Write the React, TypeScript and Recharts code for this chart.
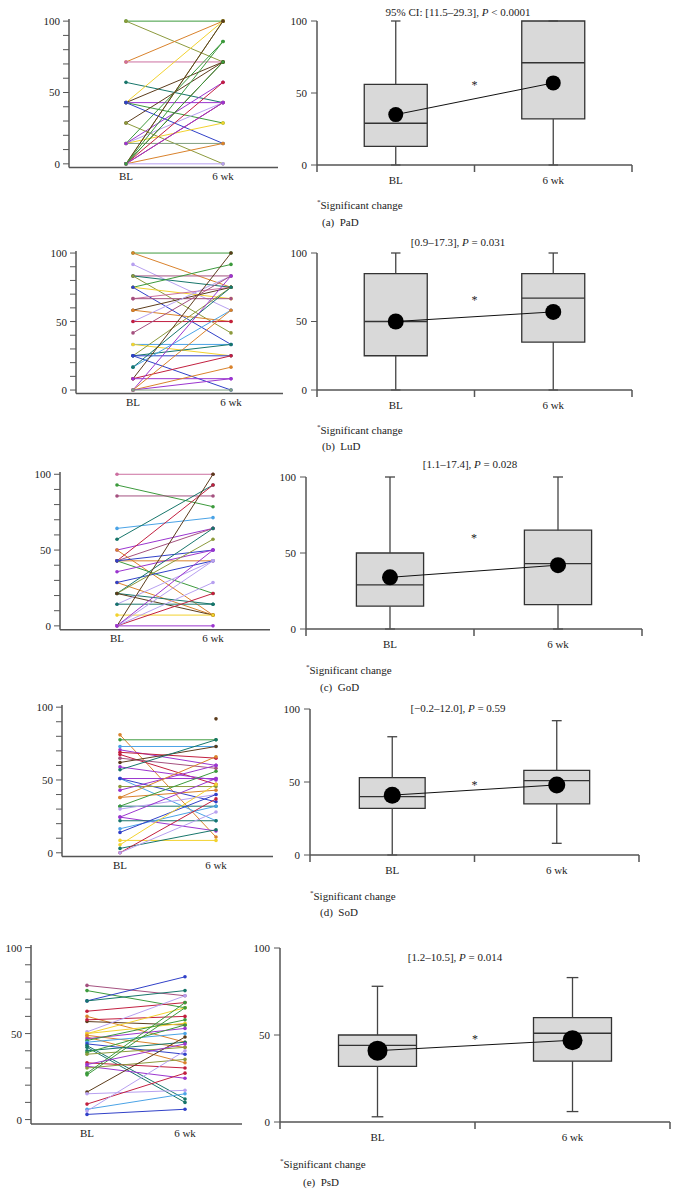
import React from 'react';
import {
	LineChart, ComposedChart, Line, XAxis, YAxis,
	ReferenceArea, ReferenceLine, ReferenceDot,
} from 'recharts';

const FONT = '"Liberation Serif", "DejaVu Serif", serif';
const AXIS = '#555';
const INK = '#222';

// palette used by the subject lines
const G = '#3c9a3c', O = '#8c9a3c', Or = '#d9822b', P = '#cc6fa0', Tl = '#17756a';
const Y = '#f2d22e', Br = '#5b3b1b', Pu = '#9b35cf', B = '#3040c8', L = '#b7a0f0';
const R = '#c21f3f', LB = '#4aa3e6', M = '#a4507f', GG = '#7f9f7f';

// (a) PaD
const paBL = [100, 100, 71.4, 71.4, 57.1, 42.9, 42.9, 42.9, 42.9, 42.9, 28.6, 28.6, 14.3, 14.3, 14.3, 14.3, 14.3, 0, 0, 0, 0, 0, 0, 0, 0, 0, 0];
const paWK = [100, 71.4, 100, 71.4, 42.9, 100, 71.4, 42.9, 28.6, 14.3, 71.4, 0, 85.7, 42.9, 28.6, 14.3, 57.1, 100, 100, 71.4, 57.1, 42.9, 71.4, 14.3, 0, 42.9, 85.7];
const paColors = [G, O, Or, P, Tl, Y, Br, Pu, G, B, Br, O, G, L, Y, GG, Pu, O, Br, Br, R, R, G, Or, L, Pu, G];

// (b) LuD
const luBL = [100, 100, 91.7, 83.3, 83.3, 83.3, 75, 75, 75, 66.7, 66.7, 58.3, 58.3, 50, 50, 41.7, 33.3, 33.3, 25, 25, 25, 25, 16.7, 16.7, 8.3, 8.3, 8.3, 0, 0, 0, 0, 0];
const luWK = [100, 75, 58.3, 83.3, 75, 41.7, 91.7, 66.7, 33.3, 75, 66.7, 75, 50, 83.3, 50, 83.3, 33.3, 25, 75, 33.3, 25, 0, 58.3, 75, 100, 25, 8.3, 83.3, 58.3, 16.7, 8.3, 0];
const luColors = [G, Or, L, M, Tl, O, G, Y, B, P, M, Br, Or, L, R, M, LB, Y, O, Tl, B, B, LB, Tl, Br, R, Pu, Pu, Or, Or, Pu, GG];

// (c) GoD
const goBL = [100, 92.9, 85.7, 64.3, 57.1, 50, 50, 42.9, 42.9, 42.9, 42.9, 42.9, 35.7, 28.6, 28.6, 21.4, 21.4, 21.4, 21.4, 14.3, 14.3, 7.1, 0, 0, 0, 0, 0, 0];
const goWK = [100, 78.6, 85.7, 71.4, 92.9, 64.3, 7.1, 92.9, 42.9, 21.4, 64.3, 50, 50, 7.1, 42.9, 64.3, 57.1, 14.3, 7.1, 42.9, 14.3, 7.1, 100, 0, 42.9, 21.4, 28.6, 50];
const goColors = [P, G, M, LB, Tl, Pu, Or, R, Or, G, M, B, Pu, Or, B, Tl, O, Tl, Br, L, Tl, Y, Br, Pu, L, R, L, Pu];

// (d) SoD
const soBL = [81, 77.6, 73, 70.7, 69, 67.5, 65, 62, 59, 57, 51, 51, 51, 45.5, 43, 38, 38, 32, 32, 30, 24.5, 24.5, 22, 16.5, 14, 8.5, 5.5, 3, 0, 0];
const soWK = [10.8, 77.6, 73, 60, 65, 47, 58, 73, 50, 77.6, 51, 22, 35, 45.5, 60, 43, 66, 32, 56, 40, 51, 15, 22, 32, 40, 8.5, 47, 15.8, 37, 28];
const soColors = [Or, G, LB, Pu, R, R, M, Br, Pu, Tl, Pu, LB, B, O, Pu, Or, Or, Tl, G, L, Pu, Pu, Tl, LB, B, Y, Y, Tl, R, L];
const soLoneWK = [92];

// (e) PsD
const psBL = [78, 75, 69, 69, 63, 60, 57, 58, 51, 50, 50, 49, 48, 47, 46, 45, 44, 43, 42, 40, 39, 38, 33, 31, 30, 27, 26, 16, 15, 9, 6, 5, 3, 32];
const psWK = [72, 65, 83, 75, 68, 45, 55, 60, 72, 56, 65, 42, 33, 53, 58, 50, 38, 12, 10, 45, 55, 42, 30, 24, 35, 68, 65, 48, 17, 27, 15, 40, 6, 44];
const psColors = [M, G, B, Tl, R, Or, Br, R, L, Y, Y, Or, Or, Pu, G, LB, B, Tl, Tl, Tl, G, O, R, Pu, O, G, G, Br, L, R, LB, L, B, Pu];

// box stats: [min, q1, median, q3, max] for BL and 6 wk
const paBox = [[0, 13, 29, 56, 100], [0, 32, 71, 100, 100]];
const luBox = [[0, 25, 50, 85, 100], [0, 35, 67, 85, 100]];
const goBox = [[0, 15, 29, 50, 100], [0, 16, 43, 65, 100]];
const soBox = [[0, 32, 40, 53, 81], [8, 35, 51, 58, 92]];
const psBox = [[3, 32, 44, 50, 78], [6, 35, 51, 60, 83]];

const paMean = [35, 57];
const luMean = [50, 57];
const goMean = [34, 42];
const soMean = [41, 48];
const psMean = [41, 47];

const starY = [57, 67, 61, 49, 49];

const titles = [
	['95% CI: [11.5–29.3], ', '< 0.0001'],
	['[0.9–17.3], ', '= 0.031'],
	['[1.1–17.4], ', '= 0.028'],
	['[−0.2–12.0], ', '= 0.59'],
	['[1.2–10.5], ', '= 0.014'],
];
const captions = ['(a)\u2002PaD', '(b)\u2002LuD', '(c)\u2002GoD', '(d)\u2002SoD', '(e)\u2002PsD'];

const leftTicks = [0, 10, 20, 30, 40, 50, 60, 70, 80, 90, 100];

const LeftYTick = (p: any) => (p.payload.value % 50 === 0
	? <text x={p.x} y={p.y} dy={4} textAnchor="end" fontSize={11} fontFamily={FONT} fill={INK}>{p.payload.value}</text>
	: <g />);

const BoxXTick = (p: any) => {
	const v = p.payload.value;
	if (Number.isInteger(v)) {
		return <line x1={p.x} x2={p.x} y1={p.y} y2={p.y + 7} stroke={AXIS} strokeWidth={1.5} />;
	}
	return (
		<text x={p.x} y={p.y + 15} dy={4} textAnchor="middle" fontSize={11} fontFamily={FONT} fill={INK}>
			{v < 1 ? 'BL' : '6 wk'}
		</text>
	);
};

type SpagGeo = { ax: number; bx: number; y100: number; y0: number; blx: number; wkx: number };

function Spaghetti({ bl, wk, colors, lone = [], g }: { bl: number[]; wk: number[]; colors: string[]; lone?: number[]; g: SpagGeo }) {
	const ux = g.wkx - g.blx;
	const xDom = [(g.ax - g.blx) / ux, (g.bx - g.blx) / ux];
	const uy = (g.y0 - g.y100) / 100;
	const top = g.y100 - 1.5 * uy;
	const bottom = g.y0 + 2.5 * uy;
	const yW = 40, xH = 24, mTop = 4;
	const width = g.bx - g.ax + yW + 4;
	const height = bottom - top + mTop + xH;
	return (
		<div style={{ position: 'absolute', left: g.ax - yW, top: top - mTop }}>
			<LineChart width={width} height={height} margin={{ top: mTop, right: 4, bottom: 0, left: 0 }}>
				<XAxis
					type="number" dataKey="x" domain={xDom} ticks={[0, 1]} interval={0}
					tickFormatter={(v) => (v === 0 ? 'BL' : '6 wk')}
					tickLine={false} tickSize={0} tickMargin={5} height={xH}
					axisLine={{ stroke: AXIS, strokeWidth: 1.5 }}
					tick={{ fontSize: 11, fill: INK, fontFamily: FONT }}
					allowDataOverflow
				/>
				<YAxis
					type="number" domain={[-2.5, 101.5]} ticks={leftTicks} interval={0}
					width={yW} tickSize={6} tickMargin={3} tick={<LeftYTick />}
					tickLine={{ stroke: AXIS }} axisLine={{ stroke: AXIS, strokeWidth: 1.5 }}
					allowDataOverflow
				/>
				{bl.map((b, i) => (
					<Line
						key={i}
						data={[{ x: 0, y: b }, { x: 1, y: wk[i] }]}
						dataKey="y"
						stroke={colors[i]}
						strokeWidth={1}
						dot={{ r: 1.8, fill: colors[i], stroke: colors[i], strokeWidth: 0 }}
						isAnimationActive={false}
					/>
				))}
				{lone.map((v, i) => (
					<Line
						key={'l' + i}
						data={[{ x: 1, y: v }]}
						dataKey="y"
						stroke={Br}
						dot={{ r: 1.8, fill: Br, stroke: Br, strokeWidth: 0 }}
						isAnimationActive={false}
					/>
				))}
			</LineChart>
		</div>
	);
}

type BoxGeo = { ax: number; bx: number; y100: number; y0: number };

function BoxPanel({ stats, means, star, dotR, g }: { stats: number[][]; means: number[]; star: number; dotR: number; g: BoxGeo }) {
	const yW = 44, xH = 30, mTop = 12;
	const width = g.bx - g.ax + yW + 6;
	const height = g.y0 - g.y100 + mTop + xH;
	const data = means.map((m, i) => ({ x: i + 0.5, y: m }));
	const edge = { stroke: '#444', strokeWidth: 1.3 };
	return (
		<div style={{ position: 'absolute', left: g.ax - yW, top: g.y100 - mTop }}>
			<ComposedChart width={width} height={height} data={data} margin={{ top: mTop, right: 6, bottom: 0, left: 0 }}>
				<XAxis
					type="number" dataKey="x" domain={[0, 2]} ticks={[0, 0.5, 1, 1.5, 2]} interval={0}
					tick={<BoxXTick />} tickLine={false} tickSize={0} tickMargin={0} height={xH}
					axisLine={{ stroke: AXIS, strokeWidth: 1.5 }}
				/>
				<YAxis
					type="number" domain={[0, 100]} ticks={[0, 50, 100]} interval={0}
					width={yW} tickSize={6} tickMargin={4}
					tick={{ fontSize: 11, fill: INK, fontFamily: FONT }}
					tickLine={{ stroke: AXIS }} axisLine={{ stroke: AXIS, strokeWidth: 1.5 }}
				/>
				{stats.map((s, i) => {
					const c = i + 0.5;
					return [
						<ReferenceLine key={`lo${i}`} segment={[{ x: c, y: s[0] }, { x: c, y: s[1] }]} {...edge} />,
						<ReferenceLine key={`hi${i}`} segment={[{ x: c, y: s[3] }, { x: c, y: s[4] }]} {...edge} />,
						<ReferenceLine key={`cl${i}`} segment={[{ x: c - 0.03, y: s[0] }, { x: c + 0.03, y: s[0] }]} {...edge} />,
						<ReferenceLine key={`ch${i}`} segment={[{ x: c - 0.03, y: s[4] }, { x: c + 0.03, y: s[4] }]} {...edge} />,
						<ReferenceArea key={`bx${i}`} x1={c - 0.2} x2={c + 0.2} y1={s[1]} y2={s[3]} fill="#d9d9d9" fillOpacity={1} stroke="#333" strokeWidth={1.3} />,
						<ReferenceLine key={`md${i}`} segment={[{ x: c - 0.2, y: s[2] }, { x: c + 0.2, y: s[2] }]} stroke="#333" strokeWidth={1.3} />,
					];
				})}
				<ReferenceDot
					x={1} y={star} r={0}
					shape={(p: any) => (
						<text x={p.cx} y={p.cy} dy={6} textAnchor="middle" fontSize={12} fontFamily={FONT} fill={INK}>*</text>
					)}
				/>
				<Line
					dataKey="y" stroke="#111" strokeWidth={1}
					dot={{ r: dotR, fill: '#000', stroke: '#000', strokeWidth: 0 }}
					isAnimationActive={false}
				/>
			</ComposedChart>
		</div>
	);
}

const textStyle: React.CSSProperties = {
	position: 'absolute', fontFamily: FONT, fontSize: 11, color: INK,
	lineHeight: '14px', whiteSpace: 'nowrap',
};

function Title({ i, x, y }: { i: number; x: number; y: number }) {
	return (
		<div style={{ ...textStyle, left: x, top: y - 7, transform: 'translateX(-50%)' }}>
			{titles[i][0]}<i>P</i> {titles[i][1]}
		</div>
	);
}

function Notes({ i, fx, fy, cx, cy }: { i: number; fx: number; fy: number; cx: number; cy: number }) {
	return (
		<>
			<div style={{ ...textStyle, left: fx, top: fy - 7 }}>
				<sup style={{ fontSize: 7 }}>*</sup>Significant change
			</div>
			<div style={{ ...textStyle, left: cx, top: cy - 7 }}>{captions[i]}</div>
		</>
	);
}

export default function App() {
	return (
		<div style={{ position: 'absolute', left: 0, top: 0, width: 678, height: 1204, background: '#fff', overflow: 'hidden' }}>
			<Spaghetti bl={paBL} wk={paWK} colors={paColors} g={{ ax: 69, bx: 278, y100: 21, y0: 163.7, blx: 126, wkx: 223 }} />
			<BoxPanel stats={paBox} means={paMean} star={starY[0]} dotR={7.5} g={{ ax: 317, bx: 632, y100: 21, y0: 165 }} />
			<Title i={0} x={458} y={12} />
			<Notes i={0} fx={317} fy={202} cx={322} cy={222} />

			<Spaghetti bl={luBL} wk={luWK} colors={luColors} g={{ ax: 76, bx: 283, y100: 252.7, y0: 389.7, blx: 133, wkx: 231 }} />
			<BoxPanel stats={luBox} means={luMean} star={starY[1]} dotR={8} g={{ ax: 317, bx: 632, y100: 253, y0: 390 }} />
			<Title i={1} x={458} y={242} />
			<Notes i={1} fx={317} fy={427} cx={322} cy={446} />

			<Spaghetti bl={goBL} wk={goWK} colors={goColors} g={{ ax: 60, bx: 270, y100: 474.7, y0: 626.3, blx: 117, wkx: 213 }} />
			<BoxPanel stats={goBox} means={goMean} star={starY[2]} dotR={8} g={{ ax: 306, bx: 642, y100: 477, y0: 629 }} />
			<Title i={2} x={470} y={464} />
			<Notes i={2} fx={306} fy={667} cx={320} cy={687} />

			<Spaghetti bl={soBL} wk={soWK} colors={soColors} lone={soLoneWK} g={{ ax: 62, bx: 273, y100: 706.7, y0: 852.3, blx: 120, wkx: 216 }} />
			<BoxPanel stats={soBox} means={soMean} star={starY[3]} dotR={8.5} g={{ ax: 310, bx: 639, y100: 709, y0: 855 }} />
			<Title i={3} x={458} y={708} />
			<Notes i={3} fx={310} fy={893} cx={320} cy={912} />

			<Spaghetti bl={psBL} wk={psWK} colors={psColors} g={{ ax: 31, bx: 242, y100: 948, y0: 1120, blx: 87, wkx: 185 }} />
			<BoxPanel stats={psBox} means={psMean} star={starY[4]} dotR={10} g={{ ax: 280, bx: 670, y100: 948, y0: 1122 }} />
			<Title i={4} x={455} y={957} />
			<Notes i={4} fx={280} fy={1161} cx={303} cy={1182} />
		</div>
	);
}
